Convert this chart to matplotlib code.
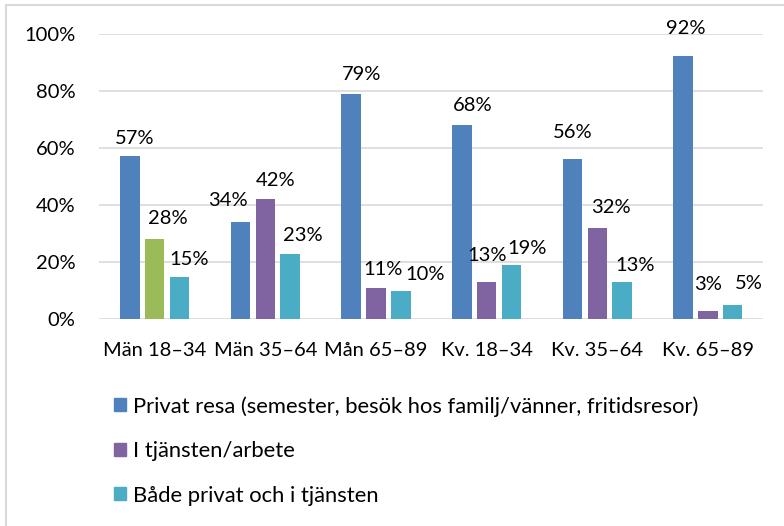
import matplotlib
matplotlib.use('Agg')
import matplotlib.pyplot as plt
from matplotlib.patches import Patch, Rectangle
import numpy as np

plt.rcParams['font.family'] = ['Lato', 'DejaVu Sans']

# --- data ---
categories = ['Män 18–34', 'Män 35–64', 'Mån 65–89', 'Kv. 18–34', 'Kv. 35–64', 'Kv. 65–89']
series_names = ['Privat resa (semester, besök hos familj/vänner, fritidsresor)',
                'I tjänsten/arbete',
                'Både privat och i tjänsten']
privat = [57, 34, 79, 68, 56, 92]
tjansten = [28, 42, 11, 13, 32, 3]
bada = [15, 23, 10, 19, 13, 5]

colors = ['#4F81BD', '#8064A2', '#4BACC6']
odd_color = '#9BBB59'  # first purple bar is green in the original

# label nudges (pixels): dx right, gap above bar top
label_dx = [[5, -13, 10, 11, 0, 3],
            [13, 10, 7, 0, 14, 0],
            [10, 13, 24, 16, 13, 16]]
label_gap = [[9, 13, 11, 11, 18, 19],
             [12, 10, 10, 18, 12, 18],
             [9, 10, 8, 8, 8, 13]]

fig = plt.figure(figsize=(7.84, 5.26), dpi=100)
ax = fig.add_axes([0.1267, 0.3926, 0.8469, 0.5437])

x = np.arange(len(categories))
w = 0.176
step = 0.224
all_series = [privat, tjansten, bada]
for i, vals in enumerate(all_series):
    cols = [colors[i]] * len(vals)
    if i == 1:
        cols[0] = odd_color
    bars = ax.bar(x + (i - 1) * step, vals, width=w, color=cols, zorder=3)
    for j, b in enumerate(bars):
        ax.annotate(f'{vals[j]}%', (b.get_x() + b.get_width() / 2, b.get_height()),
                    xytext=(label_dx[i][j], label_gap[i][j]), textcoords='offset pixels',
                    ha='center', va='bottom', fontsize=14.5, color='#000000')

ax.set_xlim(-0.5, len(categories) - 0.5)
ax.set_ylim(0, 100)
ax.set_yticks(range(0, 101, 20))
ax.set_yticklabels([f'{t}%' for t in range(0, 101, 20)])
ax.set_xticks(x)
ax.set_xticklabels(categories)
ax.tick_params(axis='both', length=0, labelsize=14.5, colors='#000000')
ax.tick_params(axis='y', pad=17)
ax.tick_params(axis='x', pad=16)
ax.grid(axis='y', color='#D9D9D9', linewidth=1.2, zorder=0)
for s in ax.spines.values():
    s.set_visible(False)

handles = [Patch(color=c) for c in colors]
fig.legend(handles, series_names, loc='upper left', bbox_to_anchor=(0.134, 0.264),
           frameon=False, fontsize=15.8, handlelength=0.54, handleheight=0.54,
           handletextpad=0.32, labelspacing=1.12, borderaxespad=0)

# chart border like the original (only top and left visible)
fig.patches.append(Rectangle((0.0077, -0.1), 1.2, 1.0905, transform=fig.transFigure,
                             fill=False, edgecolor='#D9D9D9', linewidth=1.5))

fig.savefig('out.png', dpi=100)
plt.close(fig)
